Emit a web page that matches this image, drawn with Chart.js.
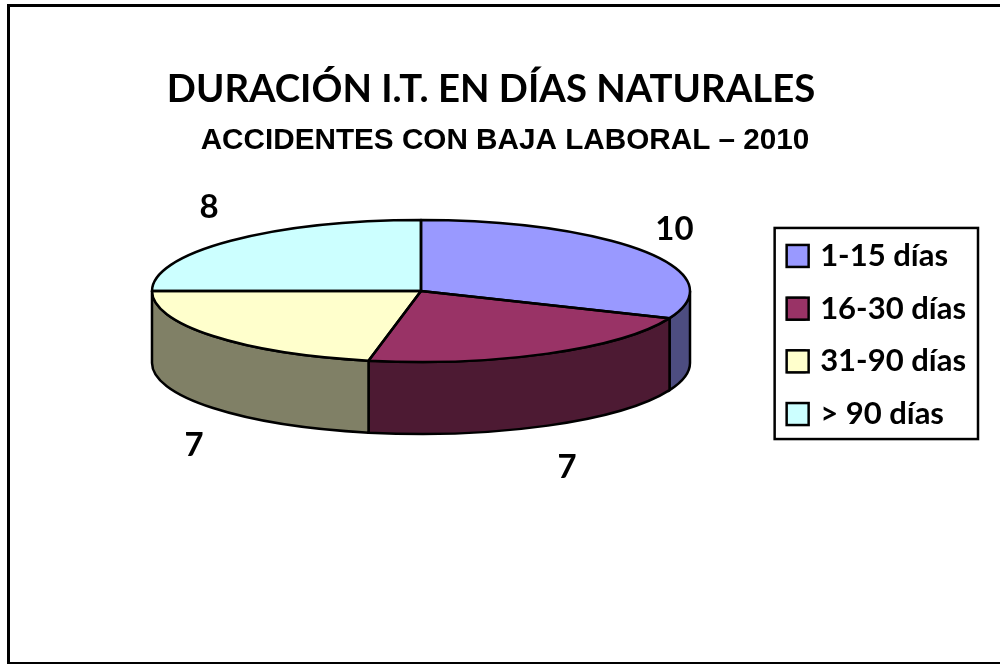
<!DOCTYPE html>
<html>
<head>
<meta charset="utf-8">
<script src="https://cdn.jsdelivr.net/npm/chart.js@4/dist/chart.umd.min.js"></script>
<style>
  html, body { margin: 0; padding: 0; background: #fff; }
  canvas { display: block; }
</style>
</head>
<body>
<canvas id="chart" width="1000" height="664"></canvas>
<script>
const categories = ['1-15 días', '16-30 días', '31-90 días', '> 90 días'];
const accidentes = [10, 7, 7, 8];
const titleText = 'DURACIÓN I.T. EN DÍAS NATURALES';
const subtitleText = 'ACCIDENTES CON BAJA LABORAL – 2010';

const topColors = ['#9999FF', '#993366', '#FFFFCC', '#CCFFFF'];
const sideColors = ['#4D4D80', '#4D1A33', '#808066', '#668080'];

// where the flattened pie ends up on the page
const PIE = { cx: 421, cy: 291, rx: 269, ry: 71, depth: 72 };
const EDGE = 2.5;
// excel does not place its labels quite evenly, small corrections per slice
const labelNudge = [[3, 4], [4, 0], [6, 8], [1, 0]];

function drawWalls(ctx, arcs) {
    arcs.forEach((arc, i) => {
        const a = Math.max(arc.startAngle, 0);
        const b = Math.min(arc.endAngle, Math.PI);
        if (b <= a) return;
        ctx.beginPath();
        ctx.ellipse(PIE.cx, PIE.cy, PIE.rx, PIE.ry, 0, a, b);
        ctx.ellipse(PIE.cx, PIE.cy + PIE.depth, PIE.rx, PIE.ry, 0, b, a, true);
        ctx.closePath();
        ctx.fillStyle = sideColors[i];
        ctx.fill();
        ctx.lineWidth = EDGE;
        ctx.strokeStyle = '#000';
        ctx.stroke();
    });
}

function outlineTops(ctx, arcs) {
    ctx.lineWidth = EDGE;
    ctx.strokeStyle = '#000';
    ctx.lineJoin = 'round';
    arcs.forEach(arc => {
        ctx.beginPath();
        ctx.moveTo(PIE.cx, PIE.cy);
        ctx.ellipse(PIE.cx, PIE.cy, PIE.rx, PIE.ry, 0, arc.startAngle, arc.endAngle);
        ctx.closePath();
        ctx.stroke();
    });
}

const pie3d = {
    id: 'pie3d',
    beforeDraw(chart) {
        const ctx = chart.ctx;
        ctx.save();
        ctx.fillStyle = '#fff';
        ctx.fillRect(0, 0, chart.width, chart.height);
        ctx.lineWidth = 3;
        ctx.strokeStyle = '#000';
        ctx.strokeRect(8.5, 5.5, 1000, 658);
        ctx.restore();
    },
    afterLayout(chart) {
        // the two title lines are not centred on the same x in the reference
        chart.boxes.forEach(box => {
            if (box.options && box.options.text === titleText) { box.left -= 7; box.right -= 7; }
            if (box.options && box.options.text === subtitleText) { box.left += 7; box.right += 7; }
        });
    },
    beforeDatasetsDraw(chart) {
        const ctx = chart.ctx;
        const arcs = chart.getDatasetMeta(0).data;
        const r = arcs[0].outerRadius;
        ctx.save();
        drawWalls(ctx, arcs);
        ctx.restore();
        ctx.save();
        ctx.translate(PIE.cx, PIE.cy);
        ctx.scale(PIE.rx / r, PIE.ry / r);
        ctx.translate(-arcs[0].x, -arcs[0].y);
    },
    afterDatasetsDraw(chart) {
        const ctx = chart.ctx;
        const arcs = chart.getDatasetMeta(0).data;
        ctx.restore();
        ctx.save();
        outlineTops(ctx, arcs);
        ctx.restore();

        // value labels sit on a wider ellipse round the pie
        ctx.save();
        ctx.font = 'bold 33px Lato';
        ctx.fillStyle = '#000';
        ctx.textAlign = 'center';
        ctx.textBaseline = 'middle';
        arcs.forEach((arc, i) => {
            const mid = (arc.startAngle + arc.endAngle) / 2;
            const s = Math.sin(mid);
            const x = PIE.cx + Math.cos(mid) * PIE.rx * 1.12 + labelNudge[i][0];
            const y = PIE.cy + s * PIE.ry * 1.66 + (s > 0 ? PIE.depth : 0) + labelNudge[i][1];
            ctx.fillText(String(accidentes[i]), x, y);
        });
        ctx.restore();
    },
    afterDraw(chart) {
        const hits = chart.legend.legendHitBoxes;
        const ctx = chart.ctx;
        ctx.save();
        // swatches are wider than chart.js would leave room for before the text
        ctx.lineWidth = 2.5;
        ctx.strokeStyle = '#000';
        hits.forEach((h, i) => {
            ctx.fillStyle = topColors[i];
            ctx.fillRect(h.left - 1, h.top + 4.5, 22, 22);
            ctx.strokeRect(h.left - 1, h.top + 4.5, 22, 22);
        });
        // frame round the legend, from the boxes the legend laid out
        const left = Math.min(...hits.map(h => h.left));
        const top = Math.min(...hits.map(h => h.top));
        const right = Math.max(...hits.map(h => h.left + h.width));
        const bottom = Math.max(...hits.map(h => h.top + h.height));
        ctx.strokeRect(left - 13, top - 12.5, right - left + 25, bottom - top + 22);
        ctx.restore();
    }
};

new Chart(document.getElementById('chart').getContext('2d'), {
    type: 'pie',
    data: {
        labels: categories,
        datasets: [{
            data: accidentes,
            backgroundColor: topColors,
            borderWidth: 0,
            clip: false
        }]
    },
    options: {
        responsive: false,
        animation: false,
        layout: { padding: { top: 67, right: 24, bottom: 61, left: 20 } },
        plugins: {
            title: {
                display: true,
                text: titleText,
                color: '#000',
                font: { family: 'Lato', size: 38.3, weight: 'bold' },
                padding: { top: 0, bottom: 10 }
            },
            subtitle: {
                display: true,
                text: subtitleText,
                color: '#000',
                font: { family: '"Liberation Sans"', size: 29.7, weight: 'bold' },
                padding: { top: 0, bottom: 20 }
            },
            legend: {
                position: 'right',
                labels: {
                    color: '#000',
                    font: { family: 'Lato', size: 31, weight: 'bold' },
                    boxWidth: 17,
                    boxHeight: 22,
                    padding: 21.7,
                    generateLabels(chart) {
                        return categories.map((c, i) => ({
                            text: c,
                            fillStyle: topColors[i],
                            strokeStyle: '#000',
                            lineWidth: 2,
                            index: i
                        }));
                    }
                }
            },
            tooltip: { enabled: false }
        }
    },
    plugins: [pie3d]
});
</script>
</body>
</html>
